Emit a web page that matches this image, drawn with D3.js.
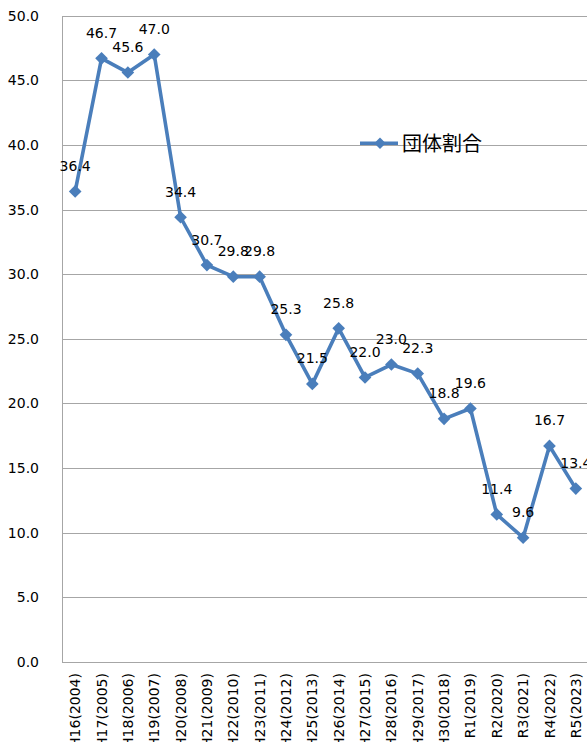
<!DOCTYPE html>
<html><head><meta charset="utf-8">
<script src="https://cdn.jsdelivr.net/npm/d3@7"></script>
<style>html,body{margin:0;padding:0;background:#fff;overflow:hidden}</style>
</head><body><svg id="c" width="587" height="742"></svg>
<script>
const categories = ["H16(2004)","H17(2005)","H18(2006)","H19(2007)","H20(2008)","H21(2009)","H22(2010)","H23(2011)","H24(2012)","H25(2013)","H26(2014)","H27(2015)","H28(2016)","H29(2017)","H30(2018)","R1(2019)","R2(2020)","R3(2021)","R4(2022)","R5(2023)"];
const values = [36.4,46.7,45.6,47.0,34.4,30.7,29.8,29.8,25.3,21.5,25.8,22.0,23.0,22.3,18.8,19.6,11.4,9.6,16.7,13.4];
const yTicks = [0,5,10,15,20,25,30,35,40,45,50];
const seriesName = "団体割合";

const color = "#4a7ebb";
const font = "'DejaVu Sans', Verdana, sans-serif";
const svg = d3.select("#c");
const left = 62, step = 26.35;
const x = d3.scaleBand().domain(categories).range([left, left + step * categories.length]).padding(0);
const y = d3.scaleLinear().domain([0, 50]).range([661.7, 15.7]);
const cx = c => x(c) + x.bandwidth() / 2;

// gridlines
svg.append("g").selectAll("line").data(yTicks).join("line")
  .attr("x1", left).attr("x2", 600)
  .attr("y1", d => Math.round(y(d)) + 0.5).attr("y2", d => Math.round(y(d)) + 0.5)
  .attr("stroke", "#a6a6a6").attr("stroke-width", 1);
// left axis line
svg.append("line").attr("x1", left + 0.5).attr("x2", left + 0.5)
  .attr("y1", Math.round(y(50)) + 0.5).attr("y2", Math.round(y(0)) + 0.5)
  .attr("stroke", "#a6a6a6");

// y tick labels
svg.append("g").selectAll("text").data(yTicks).join("text")
  .attr("x", 39).attr("y", d => y(d)).attr("dy", "0.36em")
  .attr("text-anchor", "end").attr("font-family", font).attr("font-size", 14).attr("fill", "#000")
  .text(d => d.toFixed(1));

// x labels
svg.append("g").selectAll("text").data(categories).join("text")
  .attr("transform", d => `translate(${cx(d)},673) rotate(-90)`)
  .attr("dy", "0.36em").attr("text-anchor", "end")
  .attr("font-family", font).attr("font-size", 14).attr("fill", "#000")
  .text(d => d);

// line
const pts = categories.map((c, i) => [cx(c), y(values[i])]);
svg.append("path").attr("d", d3.line()(pts)).attr("fill", "none")
  .attr("stroke", color).attr("stroke-width", 3.6).attr("stroke-linejoin", "round");

svg.append("g").selectAll("path").data(pts).join("path")
  .attr("d", d3.symbol().type(d3.symbolSquare).size(80))
  .attr("transform", d => `translate(${d[0]},${d[1]}) rotate(45)`)
  .attr("fill", color);

// data labels
svg.append("g").selectAll("text").data(values).join("text")
  .attr("x", (d, i) => pts[i][0]).attr("y", (d, i) => pts[i][1] - 20.5)
  .attr("text-anchor", "middle").attr("font-family", font).attr("font-size", 14).attr("fill", "#000")
  .text(d => d.toFixed(1));

// legend
const ly = 143.3;
svg.append("line").attr("x1", 360).attr("x2", 398).attr("y1", ly).attr("y2", ly)
  .attr("stroke", color).attr("stroke-width", 3.6);
svg.append("path").attr("d", d3.symbol().type(d3.symbolSquare).size(65)())
  .attr("transform", `translate(380,${ly}) rotate(45)`).attr("fill", color);
svg.append("text").attr("x", 402).attr("y", ly).attr("dy", "0.36em")
  .attr("font-family", "'Noto Sans CJK JP', sans-serif").attr("font-size", 20).attr("fill", "#000")
  .text(seriesName);
</script></body></html>
